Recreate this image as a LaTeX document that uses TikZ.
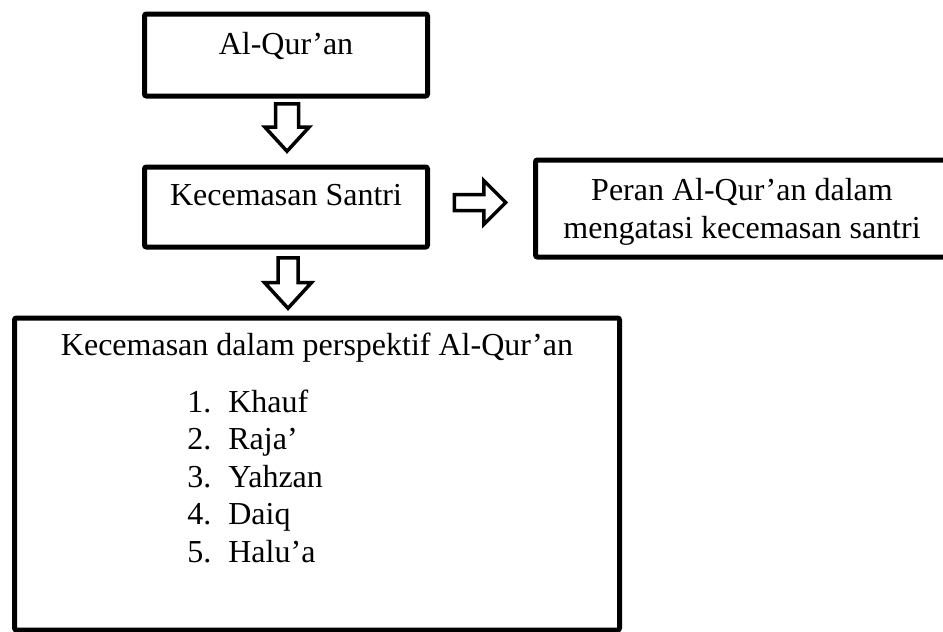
\documentclass[tikz,border=0pt]{standalone}
\usepackage{fontspec}
\setmainfont{Liberation Serif}
\usepackage{tikz}
\usetikzlibrary{shapes.arrows, calc}
\tikzstyle{box} =
[rectangle, rounded corners=1pt, draw=black, line width=2.5pt, inner xsep=0pt,
inner ysep=0pt, align=center, font=\fontsize{16}{18.75}\selectfont]
\tikzstyle{blockarrow} =
[single arrow, draw=black, line width=1.75pt, fill=white, inner xsep=0pt,
single arrow tip angle=85, rotate=-90, anchor=tail]

\begin{document}
\begin{tikzpicture}[x=0.5pt, y=-0.5pt]
  \useasboundingbox (0,0) rectangle (943,632);
  % boxes
  \node [box, anchor=north, minimum width=141.5pt, text height=20.25pt,
   text depth=20.75pt] (quran) at (286,11.5) {Al-Qur'an};
  \node [box, anchor=north, minimum width=141.5pt, text height=19.25pt,
   text depth=20.75pt] (santri) at (286,164.5) {Kecemasan Santri};
  \node [box, anchor=north, minimum width=206.5pt, text height=39pt,
   text depth=9.5pt] (peran) at (742,157.5)
   {Peran Al-Qur'an dalam\\mengatasi kecemasan santri};
  \node [box, anchor=north, minimum width=302.5pt, text height=18.75pt,
   text depth=137.25pt] (perspektif) at (317,315.5)
   {Kecemasan dalam perspektif Al-Qur'an};
  \node [anchor=base west, inner sep=0pt, font=\fontsize{16}{18.75}\selectfont]
   (daftar) at (187,412)
   {\begin{tabular}[t]{@{}p{20.5pt}@{}l@{}}
    1. & Khauf\\
    2. & Raja'\\
    3. & Yahzan\\
    4. & Daiq\\
    5. & Halu'a
   \end{tabular}};
  % arrows
  \node [blockarrow, minimum height=23.75pt, inner ysep=4.875pt,
   single arrow head extend=5.25pt] (panah1)
   at ($(quran.south)+(1,3.5)$) {};
  \node [blockarrow, minimum height=25.25pt, inner ysep=4.125pt,
   single arrow head extend=6.75pt] (panah2)
   at ($(santri.south)+(2,6.5)$) {};
  \node [blockarrow, rotate=90, minimum height=25.75pt, inner ysep=3.125pt,
   single arrow head extend=7pt, single arrow tip angle=90] (panah3)
   at ($(santri.east)+(22.5,-4.5)$) {};
\end{tikzpicture}
\end{document}
